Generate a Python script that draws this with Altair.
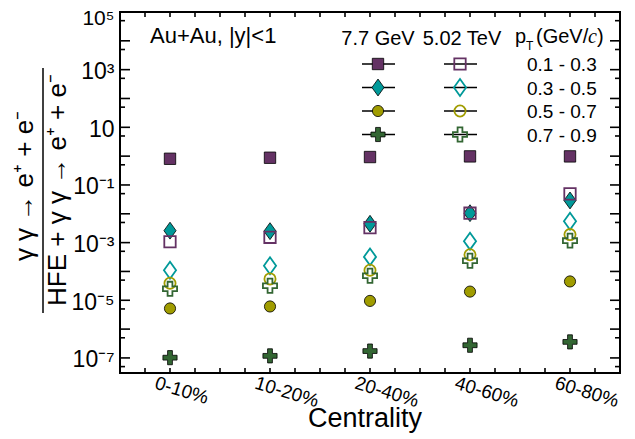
import altair as alt
import pandas as pd

# ---------------- data ----------------
centrality = ["0-10%", "10-20%", "20-40%", "40-60%", "60-80%"]
centrality_pos = [0.5, 1.5, 2.5, 3.5, 4.5]
pt_bins = ["0.1 - 0.3", "0.3 - 0.5", "0.5 - 0.7", "0.7 - 0.9"]

# 7.7 GeV (filled markers)
r77_pt1 = [0.81, 0.88, 0.93, 0.98, 0.98]
r77_pt2 = [2.6e-3, 2.5e-3, 4.5e-3, 1.05e-2, 2.9e-2]
r77_pt3 = [5.2e-6, 6.1e-6, 9.5e-6, 2.0e-5, 4.5e-5]
r77_pt4 = [1.02e-7, 1.18e-7, 1.73e-7, 2.75e-7, 3.6e-7]
# 5.02 TeV (open markers)
r502_pt1 = [1.07e-3, 1.53e-3, 3.3e-3, 1.05e-2, 4.9e-2]
r502_pt2 = [1.1e-4, 1.58e-4, 3.2e-4, 1.12e-3, 5.5e-3]
r502_pt3 = [3.9e-5, 5.5e-5, 1.1e-4, 3.8e-4, 1.9e-3]
r502_pt4 = [2.5e-5, 3.2e-5, 7.1e-5, 2.35e-4, 1.17e-3]

y_label_values = [1e5, 1e3, 1e1, 1e-1, 1e-3, 1e-5, 1e-7]
y_label_text = ["10⁵", "10³", "10", "10⁻¹", "10⁻³", "10⁻⁵", "10⁻⁷"]
y_major_ticks = [1e4, 1e3, 1e2, 1e1, 1e0, 1e-1, 1e-2, 1e-3, 1e-4, 1e-5, 1e-6, 1e-7]
y_minor_ticks = [5e4, 5e3, 5e2, 5e1, 5e0, 5e-1, 5e-2, 5e-3, 5e-4, 5e-5, 5e-6, 5e-7, 5e-8]
x_ticks = [0.25, 0.5, 0.75, 1.0, 1.25, 1.5, 1.75, 2.0, 2.25, 2.5, 2.75, 3.0,
           3.25, 3.5, 3.75, 4.0, 4.25, 4.5, 4.75]

# ---------------- style ----------------
W, H = 500, 361
FONT = "Liberation Sans"
colors = ["#643264", "#009999", "#a09c00", "#336633"]
DIAMOND = "M0,-1L0.72,0L0,1L-0.72,0Z"
CROSS = ("M-1,-0.34L-0.34,-0.34L-0.34,-1L0.34,-1L0.34,-0.34L1,-0.34L1,0.34"
         "L0.34,0.34L0.34,1L-0.34,1L-0.34,0.34L-1,0.34Z")
shapes = ["square", DIAMOND, "circle", CROSS]
sizes = [130, 285, 125, 200]

xscale = alt.Scale(domain=[0, 5], nice=False, zero=False)
yscale = alt.Scale(type="log", domain=[3e-8, 1e5], nice=False)

x_label_expr = "[" + ",".join("'%s'" % c for c in centrality) + "][floor(datum.value)]"
y_label_expr = ("[" + ",".join("'%s'" % t for t in y_label_text) + "]"
                "[round((5 - log(datum.value)/LN10)/2)]")

xaxis = alt.Axis(values=centrality_pos, labelExpr=x_label_expr, ticks=False, domain=False,
                 grid=False, title=None, labelAngle=17, labelAlign="left",
                 labelBaseline="middle", labelOffset=-15, labelPadding=9,
                 labelFontSize=19, labelFont=FONT, labelColor="black",
                 labelFlush=False, labelOverlap=False)
yaxis = alt.Axis(values=y_label_values, labelExpr=y_label_expr, ticks=False, domain=False,
                 grid=False, title=None, labelFont=FONT,
                 labelFontSize={"condition": {"test": "datum.value > 5e4", "value": 21},
                                "value": 23},
                 labelColor="black", labelPadding=6,
                 labelOffset={"condition": {"test": "datum.value > 5e4", "value": 6},
                              "value": 2},
                 labelFlush=False, labelOverlap=False, labelBaseline="middle")


def X():
    return alt.X("x:Q", scale=xscale, axis=xaxis)


def Y():
    return alt.Y("y:Q", scale=yscale, axis=yaxis)


one = pd.DataFrame({"k": [0]})
layers = []

# ---------------- tick marks (inside the frame) ----------------
df_ymaj = pd.DataFrame({"y": y_major_ticks})
df_ymin = pd.DataFrame({"y": y_minor_ticks})
df_xt = pd.DataFrame({"x": x_ticks})
for df, ln in ((df_ymaj, 10), (df_ymin, 5)):
    layers.append(alt.Chart(df).mark_rule(color="black", strokeWidth=1.6).encode(
        y=Y(), x=alt.value(0), x2=alt.value(ln)))
    layers.append(alt.Chart(df).mark_rule(color="black", strokeWidth=1.6).encode(
        y=Y(), x=alt.value(W), x2=alt.value(W - ln)))
layers.append(alt.Chart(df_xt).mark_rule(color="black", strokeWidth=1.6).encode(
    x=X(), y=alt.value(H), y2=alt.value(H - 5)))
layers.append(alt.Chart(df_xt).mark_rule(color="black", strokeWidth=1.6).encode(
    x=X(), y=alt.value(0), y2=alt.value(5)))


def filled_mark(i):
    return dict(shape=shapes[i], size=sizes[i], filled=True, fill=colors[i],
                stroke="black", strokeWidth=0.8, opacity=1)


def open_mark(i):
    return dict(shape=shapes[i], size=sizes[i], filled=False, stroke=colors[i],
                strokeWidth=1.8, opacity=1)


# ---------------- data points ----------------
series77 = [r77_pt1, r77_pt2, r77_pt3, r77_pt4]
series502 = [r502_pt1, r502_pt2, r502_pt3, r502_pt4]
for i, vals in enumerate(series77):
    df = pd.DataFrame({"x": centrality_pos, "y": vals})
    layers.append(alt.Chart(df).mark_point(**filled_mark(i)).encode(x=X(), y=Y()))
for i, vals in enumerate(series502):
    df = pd.DataFrame({"x": centrality_pos, "y": vals})
    layers.append(alt.Chart(df).mark_point(**open_mark(i)).encode(x=X(), y=Y()))

# ---------------- legend ----------------
row_y = [52, 75.5, 99, 122.5]
col_x = [258, 340]
for i in range(4):
    for j, cx in enumerate(col_x):
        layers.append(alt.Chart(one).mark_rule(color="black", strokeWidth=1.5).encode(
            x=alt.value(cx - 16), x2=alt.value(cx + 17), y=alt.value(row_y[i])))
        mk = filled_mark(i) if j == 0 else open_mark(i)
        layers.append(alt.Chart(one).mark_point(**mk).encode(
            x=alt.value(cx), y=alt.value(row_y[i])))
    layers.append(alt.Chart(one).mark_text(
        text=pt_bins[i], font=FONT, fontSize=19, align="left", baseline="middle",
        color="black").encode(x=alt.value(407), y=alt.value(row_y[i] + 1)))


def txt(s, x, y, size, align="left", baseline="alphabetic", angle=0, font=FONT,
        style="normal"):
    kw = dict(text=s, font=font, fontSize=size, align=align, baseline=baseline,
              color="black", fontStyle=style)
    if angle:
        kw["angle"] = angle
    return alt.Chart(one).mark_text(**kw).encode(x=alt.value(x), y=alt.value(y))


layers.append(txt("Au+Au, |y|<1", 30, 31, 22))
layers.append(txt("7.7 GeV", 258, 33, 20, align="center"))
layers.append(txt("5.02 TeV", 342, 33, 20, align="center"))
layers.append(txt("p", 395, 31, 20))
layers.append(txt("T", 406, 38, 12))
layers.append(txt("(GeV/", 416, 31, 20))
layers.append(txt("c", 468, 31, 20, font="Liberation Serif", style="italic"))
layers.append(txt(")", 477, 31, 20))

# axis titles
layers.append(txt("Centrality", 245, 415, 27, align="center"))
layers.append(txt("γ γ → e⁺ + e⁻", -95, 174, 26, align="center", baseline="middle",
                  angle=270))
layers.append(txt("HFE + γ γ → e⁺ + e⁻", -62, 178, 26, align="center",
                  baseline="middle", angle=270))
layers.append(alt.Chart(one).mark_rule(color="black", strokeWidth=1.5).encode(
    x=alt.value(-77), y=alt.value(56), y2=alt.value(301)))

chart = alt.layer(*layers).properties(
    width=W, height=H,
    autosize=alt.AutoSizeParams(type="none"),
    padding={"left": 112, "top": 4, "right": 6, "bottom": 66},
    background="white",
).configure_view(stroke="black", strokeWidth=2)

chart.save("out.html", embed_options={"renderer": "svg", "actions": False})
